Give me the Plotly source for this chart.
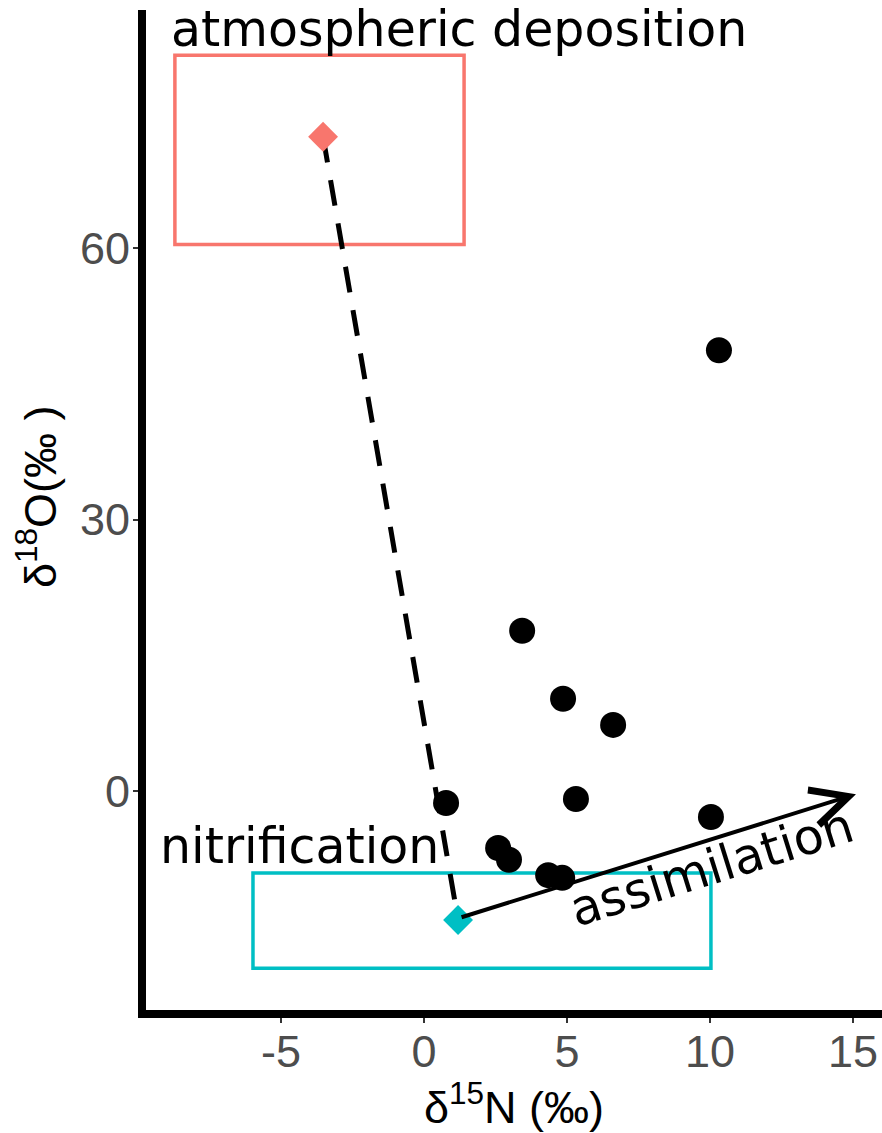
import plotly.graph_objects as go

# Sample points
d15N = [10.31, 3.43, 4.86, 6.61, 0.77, 5.31, 10.03, 2.59, 2.97, 4.34, 4.83]
d18O = [48.7, 17.7, 10.2, 7.3, -1.33, -0.88, -2.87, -6.3, -7.6, -9.3, -9.6]

# Source end-members (mean points)
src_names = ["atmospheric deposition", "nitrification"]
src_N = [-3.53, 1.19]
src_O = [72.3, -14.25]
src_colors = ["#F8766D", "#00BFC4"]

# Source ranges (boxes)
box_N_lo = [-8.71, -5.98]
box_N_hi = [1.40, 10.03]
box_O_lo = [60.4, -19.6]
box_O_hi = [81.3, -9.06]

# Assimilation arrow
arrow_start = (1.26, -14.0)
arrow_end = (15.1, -0.35)

# Labels
label_text = ["atmospheric deposition", "nitrification", "assimilation"]
label_x = [1.22, -4.34, 10.07]
label_y = [84.1, -6.1, -8.5]
label_angle = [0, 0, -17.3]

# Tick labels
x_ticks = [-5, 0, 5, 10, 15]
x_ticklabels = ["-5", "0", "5", "10", "15"]
y_ticks = [0, 30, 60]
y_ticklabels = ["0", "30", "60"]

fig = go.Figure()

# dashed mixing line
fig.add_trace(go.Scatter(x=src_N, y=src_O, mode="lines",
                         line=dict(color="black", width=5, dash="26px,18px"),
                         showlegend=False, hoverinfo="skip"))

for i in range(2):
    fig.add_shape(type="rect", xref="x", yref="y",
                  x0=box_N_lo[i], x1=box_N_hi[i], y0=box_O_lo[i], y1=box_O_hi[i],
                  line=dict(color=src_colors[i], width=3.5), fillcolor="rgba(0,0,0,0)",
                  layer="below")

fig.add_trace(go.Scatter(x=src_N, y=src_O, mode="markers",
                         marker=dict(symbol="diamond", size=23, color=src_colors, line=dict(width=0)),
                         showlegend=False))

fig.add_trace(go.Scatter(x=d15N, y=d18O, mode="markers",
                         marker=dict(symbol="circle", size=26, color="black", line=dict(width=0)),
                         showlegend=False))

fig.add_annotation(x=arrow_end[0], y=arrow_end[1], ax=arrow_start[0], ay=arrow_start[1],
                   xref="x", yref="y", axref="x", ayref="y", text="",
                   showarrow=True, arrowhead=5, arrowwidth=4, arrowsize=1.8,
                   arrowcolor="black", standoff=0, startstandoff=0)

for t, x, y, a in zip(label_text, label_x, label_y, label_angle):
    fig.add_annotation(x=x, y=y, xref="x", yref="y", text=t, showarrow=False,
                       textangle=a, xanchor="center", yanchor="middle",
                       font=dict(family="DejaVu Sans", size=49, color="black"))

# y axis title as annotation (placed like the reference)
fig.add_annotation(x=-0.148, y=0.513, xref="paper", yref="paper",
                   text="δ<sup>18</sup>O(‰ )", showarrow=False, textangle=-90,
                   xanchor="center", yanchor="middle",
                   font=dict(family="Liberation Sans", size=45, color="black"))

fig.update_layout(
    width=882, height=1133,
    margin=dict(l=146, r=0, t=10, b=123),
    plot_bgcolor="white", paper_bgcolor="white",
    showlegend=False,
    xaxis=dict(range=[-9.72, 16.01], tickmode="array", tickvals=x_ticks, ticktext=x_ticklabels,
               showgrid=False, zeroline=False, showline=True, linecolor="black", linewidth=8,
               ticks="outside", ticklen=5, tickwidth=1.5, tickcolor="#333333",
               ticklabelstandoff=-10,
               tickfont=dict(family="Liberation Sans", size=45, color="#4D4D4D"),
               title=dict(text="δ<sup>15</sup>N (‰)", font=dict(family="Liberation Sans", size=45, color="black"), standoff=8)),
    yaxis=dict(range=[-24.2, 86.3], tickmode="array", tickvals=y_ticks, ticktext=y_ticklabels,
               showgrid=False, zeroline=False, showline=True, linecolor="black", linewidth=8,
               ticks="outside", ticklen=5, tickwidth=1.5, tickcolor="#333333",
               ticklabelstandoff=-6,
               tickfont=dict(family="Liberation Sans", size=45, color="#4D4D4D")),
)

fig.write_html("out.html")
